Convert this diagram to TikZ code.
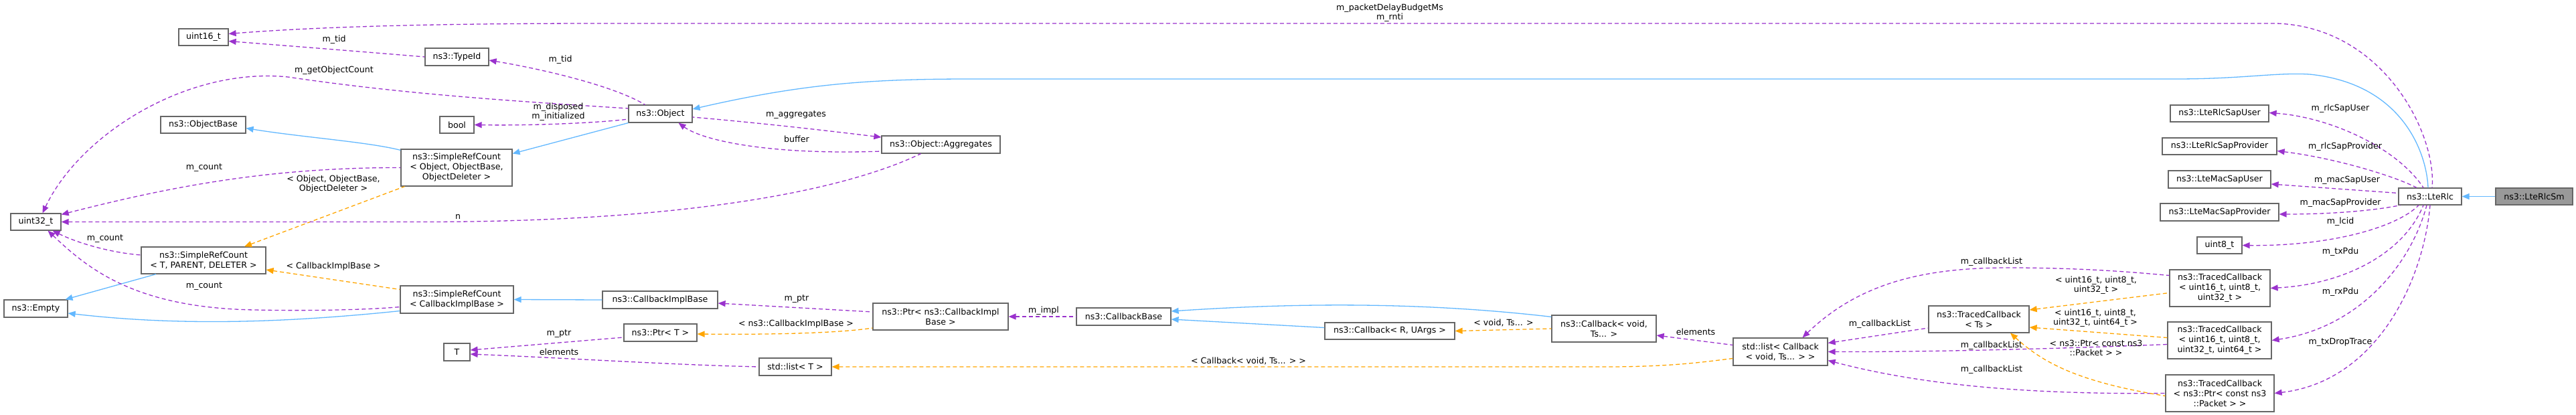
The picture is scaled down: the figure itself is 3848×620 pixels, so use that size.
\documentclass[tikz,border=0pt]{standalone}
\usepackage{fontspec}
\setmainfont{DejaVu Sans}
\usetikzlibrary{arrows.meta}
\definecolor{pur}{HTML}{9A32CD}
\definecolor{blu}{HTML}{63B8FF}
\definecolor{ora}{HTML}{FFA500}
\tikzset{
 box/.style={draw=black!60,line width=1.2pt,fill=white,inner sep=0pt,align=center,font=\fontsize{12.6}{15}\selectfont},
 lab/.style={inner sep=0pt,align=center,font=\fontsize{12.6}{14.5}\selectfont},
 pe/.style={draw=pur,line width=1.3pt,dash pattern=on 6pt off 4pt,{Triangle[length=11pt,width=9pt]}-},
 oe/.style={draw=ora,line width=1.3pt,dash pattern=on 6pt off 4pt,{Triangle[length=11pt,width=9pt]}-},
 ie/.style={draw=blu,line width=1.3pt,{Triangle[length=11pt,width=9pt]}-},
}
\newcommand\bx[6]{\node[box,minimum width=#4pt,minimum height=#5pt] (#1) at (#2,-#3) {#6};}
\newcommand\lb[4]{\node[lab] (#1) at (#2,-#3) {#4};}
\begin{document}
\begin{tikzpicture}[x=1pt,y=1pt]
\useasboundingbox (0,0) rectangle (3848,-620);
\bx{uint16}{304}{55.5}{74}{25}{uint16\_t}
\bx{typeid}{682.5}{85}{95}{26}{ns3::TypeId}
\bx{object}{986.5}{170}{95}{26}{ns3::Object}
\bx{objbase}{303.5}{186.5}{127}{25}{ns3::ObjectBase}
\bx{bool}{682.5}{186.5}{51}{25}{bool}
\bx{srcobj}{682}{250.5}{166}{55}{ns3::SimpleRefCount\\< Object, ObjectBase,\\ObjectDeleter >}
\bx{uint32}{53.5}{331.5}{75}{25}{uint32\_t}
\bx{srct}{304}{389}{186}{40}{ns3::SimpleRefCount\\< T, PARENT, DELETER >}
\bx{empty}{53.5}{461}{95}{26}{ns3::Empty}
\bx{srccib}{682.5}{447.5}{169}{41}{ns3::SimpleRefCount\\< CallbackImplBase >}
\bx{cib}{986}{448}{172}{26}{ns3::CallbackImplBase}
\bx{ptrt}{986.5}{497}{109}{26}{ns3::Ptr< T >}
\bx{T}{682.5}{526}{39}{26}{T}
\bx{aggr}{1405.5}{216}{177}{26}{ns3::Object::Aggregates}
\bx{ptrcib}{1405}{473}{202}{40}{ns3::Ptr< ns3::CallbackImpl\\Base >}
\bx{cbbase}{1678.5}{473}{141}{26}{ns3::CallbackBase}
\bx{listT}{1188}{548}{108}{26}{std::list< T >}
\bx{cbR}{2076}{494.5}{194}{25}{ns3::Callback< R, UArgs >}
\bx{cbv}{2396}{491}{156}{40}{ns3::Callback< void,\\Ts... >}
\bx{listcb}{2659.5}{525.5}{141}{41}{std::list< Callback\\< void, Ts... > >}
\bx{tcts}{2956}{477}{150}{40}{ns3::TracedCallback\\< Ts >}
\bx{sapu}{3315.5}{169.5}{147}{25}{ns3::LteRlcSapUser}
\bx{sapp}{3315.5}{218.5}{171}{25}{ns3::LteRlcSapProvider}
\bx{macu}{3315.5}{268}{153}{26}{ns3::LteMacSapUser}
\bx{macp}{3315.5}{317}{177}{26}{ns3::LteMacSapProvider}
\bx{u8}{3315.5}{366.5}{67}{25}{uint8\_t}
\bx{tc1}{3316}{430.5}{150}{55}{ns3::TracedCallback\\< uint16\_t, uint8\_t,\\uint32\_t >}
\bx{tc2}{3315.5}{508.5}{155}{55}{ns3::TracedCallback\\< uint16\_t, uint8\_t,\\uint32\_t, uint64\_t >}
\bx{tc3}{3316}{587.5}{162}{55}{ns3::TracedCallback\\< ns3::Ptr< const ns3\\::Packet > >}
\bx{lterlc}{3630}{293.5}{94}{25}{ns3::LteRlc}
\node[box,fill=black!40,minimum width=115pt,minimum height=25pt] (ltersm) at (3785.5,-293.5) {ns3::LteRlcSm};
% edges
\draw[ie] (lterlc.east) -- (ltersm.west);
\draw[ie] ([yshift=7pt]object.east) .. controls (1200,-125) and (1300,-118) .. (1450,-118) -- (3250,-118) .. controls (3350,-118) and (3400,-108) .. (3450,-111) .. controls (3590,-125) and (3625,-230) .. ([xshift=-3pt]lterlc.north);
\draw[pe] ([yshift=5pt]uint16.east) .. controls (500,-38) and (700,-35) .. (900,-35) -- (3400,-35) .. controls (3560,-40) and (3640,-200) .. ([xshift=3pt]lterlc.north);
\lb{l1}{2076}{19}{m\_packetDelayBudgetMs\\m\_rnti}
\draw[pe] ([yshift=-6pt]uint16.east) .. controls (450,-70) and (550,-78) .. (typeid.west);
\lb{l2}{499}{59}{m\_tid}
\draw[pe] ([yshift=-5pt]typeid.east) .. controls (820,-105) and (920,-130) .. ([xshift=-23pt]object.north);
\lb{l3}{837}{89}{m\_tid}
\draw[pe] ([xshift=10pt]uint32.north) .. controls (120,-200) and (280,-100) .. (430,-115) .. controls (600,-140) and (750,-150) .. ([yshift=8pt]object.west);
\lb{l4}{499}{105}{m\_getObjectCount}
\draw[pe] (bool.east) .. controls (800,-188) and (900,-183) .. ([yshift=-8pt]object.west);
\lb{l5}{834}{167}{m\_disposed\\m\_initialized}
\draw[ie] ([yshift=-5pt]objbase.east) .. controls (450,-205) and (550,-212) .. ([yshift=-2pt]srcobj.north west);
\draw[ie] ([yshift=21pt]srcobj.east) -- (object.south west);
\draw[pe] ([yshift=11pt]uint32.east) .. controls (250,-280) and (400,-250) .. (srcobj.west);
\lb{l6}{305}{251}{m\_count}
\draw[oe] ([xshift=61pt]srct.north) -- ([xshift=6pt]srcobj.south west);
\lb{l7}{498}{275}{< Object, ObjectBase,\\ObjectDeleter >}
\draw[pe] (uint32.east) -- (640,-331.5) .. controls (1000,-331) and (1250,-290) .. ([xshift=-30pt]aggr.south);
\lb{l8}{684}{324}{n}
\draw[pe] ([yshift=11pt]aggr.west) .. controls (1250,-197) and (1150,-185) .. ([yshift=-5pt]object.east);
\lb{l9}{1189}{172}{m\_aggregates}
\draw[pe] ([xshift=27pt]object.south) .. controls (1050,-210) and (1150,-232) .. ([yshift=-10pt]aggr.west);
\lb{l10}{1190}{208}{buffer}
\draw[pe] ([xshift=25pt]uint32.south) .. controls (120,-365) and (170,-378) .. ([yshift=8pt]srct.west);
\lb{l11}{157}{357}{m\_count}
\draw[ie] ([xshift=44pt]empty.north) -- ([xshift=-71pt]srct.south);
\draw[pe] ([xshift=18pt]uint32.south) .. controls (130,-400) and (200,-460) .. (380,-463) .. controls (480,-465) and (560,-462) .. ([yshift=-11pt]srccib.west);
\lb{l12}{305}{428}{m\_count}
\draw[oe] ([yshift=-14pt]srct.east) -- ([yshift=15pt]srccib.west);
\lb{l13}{498}{398}{< CallbackImplBase >}
\draw[ie] ([yshift=-7pt]empty.east) .. controls (250,-485) and (400,-485) .. ([yshift=-17pt]srccib.west);
\draw[ie] (srccib.east) -- (cib.west);
\draw[pe] ([yshift=-5pt]cib.east) -- ([yshift=7pt]ptrcib.west);
\lb{l14}{1190}{447}{m\_ptr}
\draw[oe] ([yshift=-2pt]ptrt.east) .. controls (1150,-500) and (1250,-498) .. ([yshift=-17pt]ptrcib.west);
\lb{l15}{1189}{484}{< ns3::CallbackImplBase >}
\draw[pe] ([yshift=3pt]T.east) -- ([yshift=-7pt]ptrt.west);
\lb{l16}{835}{499}{m\_ptr}
\draw[pe] ([yshift=-3pt]T.east) .. controls (850,-535) and (1000,-545) .. (listT.west);
\lb{l17}{835}{526}{elements}
\draw[pe] (ptrcib.east) -- (cbbase.west);
\lb{l18}{1559}{464}{m\_impl}
\draw[ie] ([yshift=8pt]cbbase.east) .. controls (1900,-455) and (2100,-448) .. ([yshift=-3pt]cbv.north west);
\draw[ie] ([yshift=-4pt]cbbase.east) -- ([yshift=5pt]cbR.west);
\draw[oe] (cbR.east) -- (cbv.west);
\lb{l19}{2246}{482}{< void, Ts... >}
\draw[pe] ([yshift=-10pt]cbv.east) -- ([yshift=10pt]listcb.west);
\lb{l20}{2533}{496}{elements}
\draw[oe] (listT.east) -- (2400,-548) .. controls (2500,-548) and (2550,-540) .. ([yshift=-10pt]listcb.west);
\lb{l21}{1865}{539}{< Callback< void, Ts... > >}
\draw[pe] ([xshift=33pt]listcb.north) .. controls (2780,-420) and (2880,-400) .. (3000,-400) .. controls (3120,-400) and (3200,-408) .. ([yshift=19pt]tc1.west);
\lb{l22}{2975}{391}{m\_callbackList}
\draw[pe] ([yshift=13pt]listcb.east) -- ([yshift=-13pt]tcts.west);
\lb{l23}{2808}{484}{m\_callbackList}
\draw[pe] (listcb.east) .. controls (2900,-526) and (3100,-520) .. ([yshift=-6pt]tc2.west);
\lb{l24}{2975}{516}{m\_callbackList}
\draw[pe] ([yshift=-13pt]listcb.east) .. controls (2850,-570) and (3000,-590) .. (tc3.west);
\lb{l25}{2975}{552}{m\_callbackList}
\draw[oe] ([yshift=14pt]tcts.east) -- ([yshift=-7pt]tc1.west);
\lb{l26}{3131}{426}{< uint16\_t, uint8\_t,\\uint32\_t >}
\draw[oe] ([yshift=-12pt]tcts.east) -- ([yshift=4pt]tc2.west);
\lb{l27}{3130}{475}{< uint16\_t, uint8\_t,\\uint32\_t, uint64\_t >}
\draw[oe] ([xshift=47pt]tcts.south) .. controls (3050,-540) and (3100,-570) .. ([yshift=-4pt]tc3.west);
\lb{l28}{3131}{520}{< ns3::Ptr< const ns3\\::Packet > >}
\draw[pe] ([yshift=1pt]sapu.east) .. controls (3480,-175) and (3580,-220) .. ([xshift=-10pt]lterlc.north);
\lb{l29}{3496}{162}{m\_rlcSapUser}
\draw[pe] ([yshift=-7pt]sapp.east) .. controls (3480,-235) and (3570,-260) .. ([xshift=-20pt]lterlc.north);
\lb{l30}{3503}{219}{m\_rlcSapProvider}
\draw[pe] ([yshift=-7pt]macu.east) -- ([yshift=5pt]lterlc.west);
\lb{l31}{3506}{269}{m\_macSapUser}
\draw[pe] ([yshift=-3pt]macp.east) .. controls (3500,-320) and (3560,-312) .. ([xshift=3pt]lterlc.south west);
\lb{l32}{3496}{303}{m\_macSapProvider}
\draw[pe] (u8.east) .. controls (3480,-368) and (3580,-340) .. ([xshift=-17pt]lterlc.south);
\lb{l33}{3496}{331}{m\_lcid}
\draw[pe] (tc1.east) .. controls (3500,-425) and (3590,-380) .. ([xshift=-10pt]lterlc.south);
\lb{l34}{3496}{376}{m\_txPdu}
\draw[pe] (tc2.east) .. controls (3520,-490) and (3600,-400) .. ([xshift=-5pt]lterlc.south);
\lb{l35}{3496}{436}{m\_rxPdu}
\draw[pe] (tc3.east) .. controls (3550,-570) and (3620,-420) .. (lterlc.south);
\lb{l36}{3496}{511}{m\_txDropTrace}
\end{tikzpicture}
\end{document}
